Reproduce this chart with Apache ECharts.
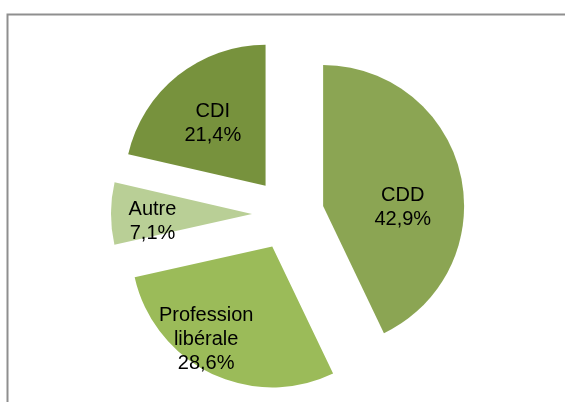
<!DOCTYPE html>
<html>
<head>
<meta charset="utf-8">
<script src="https://cdn.jsdelivr.net/npm/echarts@6/dist/echarts.min.js"></script>
<style>
html,body{margin:0;padding:0;background:#fff;}
#chart{width:565px;height:402px;}
</style>
</head>
<body>
<div id="chart"></div>
<script>
// contract types, share of the group
var categories = ['CDD', 'Profession\nlibérale', 'Autre', 'CDI'];
var shares = [42.9, 28.6, 7.1, 21.4];
var shareLabels = ['42,9%', '28,6%', '7,1%', '21,4%'];

var colors = ['#8ba553', '#9bbb59', '#b9cf96', '#77923d'];
// nudges so the labels sit where excel put them
var labelNudge = [[8, 18], [-34, 27], [-26, 8], [-7, -5]];

var myChart = echarts.init(document.getElementById('chart'));

var pieData = categories.map(function (name, i) {
    return {
        name: name,
        value: shares[i],
        selected: true,
        itemStyle: { color: colors[i] }
    };
});

var option = {
    animation: false,
    graphic: [{
        type: 'rect',
        shape: { x: 7.5, y: 14.5, width: 620, height: 420 },
        style: { fill: 'none', stroke: '#8f8f8f', lineWidth: 2 },
        silent: true
    }],
    series: [{
        type: 'pie',
        center: [288, 214],
        radius: 141,
        startAngle: 90,
        clockwise: true,
        selectedMode: 'multiple',
        selectedOffset: 36,
        avoidLabelOverlap: false,
        data: pieData,
        label: {
            show: true,
            position: 'inside',
            color: '#000',
            fontFamily: 'Liberation Sans, Arial, sans-serif',
            fontSize: 20,
            lineHeight: 24,
            align: 'center',
            formatter: function (p) {
                return p.name + '\n' + shareLabels[p.dataIndex];
            }
        },
        labelLayout: function (params) {
            var n = labelNudge[params.dataIndex];
            return { dx: n[0], dy: n[1] };
        },
        labelLine: { show: false },
        emphasis: { disabled: true },
        select: { disabled: false, itemStyle: {} },
        itemStyle: { borderWidth: 0 }
    }]
};

if (option && typeof option === "object") {
    myChart.setOption(option, true);
}
</script>
</body>
</html>
